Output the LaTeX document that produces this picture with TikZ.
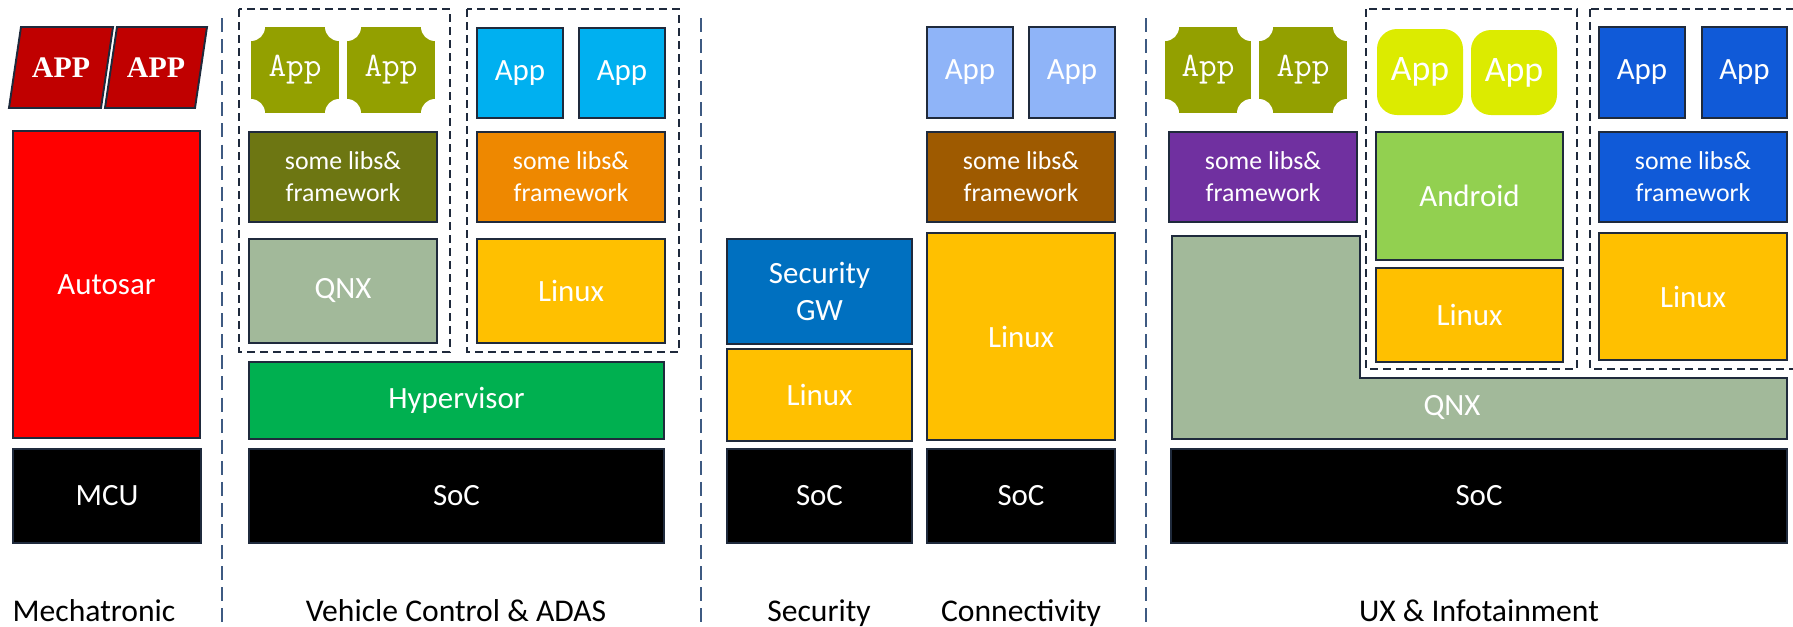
\documentclass[tikz,border=0pt]{standalone}
\usepackage{fontspec}
\setmainfont{Carlito}
\newfontfamily\serifapp{Liberation Serif}

\definecolor{edge}{HTML}{1F2A3C}
\definecolor{divider}{HTML}{3E5A82}
\definecolor{appred}{HTML}{C00000}
\definecolor{autosar}{HTML}{FF0000}
\definecolor{appolive}{HTML}{93A000}
\definecolor{libolive}{HTML}{6D7612}
\definecolor{qnx}{HTML}{A2B99A}
\definecolor{appcyan}{HTML}{00B0F0}
\definecolor{liborange}{HTML}{EE8800}
\definecolor{linux}{HTML}{FFC000}
\definecolor{hyper}{HTML}{00B050}
\definecolor{secgw}{HTML}{0070C0}
\definecolor{appsky}{HTML}{8FB4F8}
\definecolor{libbrown}{HTML}{9E5A00}
\definecolor{libpurple}{HTML}{7030A0}
\definecolor{android}{HTML}{92D050}
\definecolor{applime}{HTML}{DCEB00}
\definecolor{appblue}{HTML}{105AD8}

\tikzset{
  span/.style n args={4}{at={({(#1+#3)/2},{(#2+#4)/2})},
    minimum width={(#3-#1)*0.02cm}, minimum height={(#4-#2)*0.02cm}},
  layer/.style={draw=edge, line width=1.1pt, inner sep=0pt, text=white,
    align=center, font=\fontsize{17.6}{21}\selectfont},
  libs/.style={layer, font=\fontsize{14.7}{18.1}\selectfont},
  group/.style={draw=edge, line width=1.1pt, dash pattern=on 4.6pt off 2.8pt},
  sep/.style={draw=divider, line width=0.9pt, dash pattern=on 8pt off 4pt},
  cutapp/.style={fill=appolive, inner sep=0pt, text=white,
    font=\ttfamily\fontsize{19.5}{23}\selectfont,
    path picture={
      \foreach \c in {north east,north west,south east,south west}
        \fill[white] (path picture bounding box.\c) circle (0.28cm);
    }},
  roundapp/.style={fill=applime, rounded corners=0.4cm, inner sep=0pt,
    text=white, font=\fontsize{20.4}{24}\selectfont},
  redapp/.style={text=white, font=\serifapp\bfseries\fontsize{17}{20}\selectfont},
  caption/.style={anchor=base, font=\fontsize{18}{22}\selectfont},
}

\begin{document}
\begin{tikzpicture}[x=0.02cm,y=-0.02cm]
\clip (0,0) rectangle (1793,626);

% Mechatronic
\draw[layer, fill=appred] (9,108) -- (21,27) -- (113,27) -- (101,108) -- cycle;
\draw[layer, fill=appred] (105,108) -- (117,27) -- (207,27) -- (195,108) -- cycle;
\node[redapp] (mc-app1) at (61,68) {APP};
\node[redapp] (mc-app2) at (156,68) {APP};
\node[layer, fill=autosar, span={13}{131}{200}{438}] (autosar) {Autosar};
\node[layer, fill=black, span={13}{449}{201}{543}] (mcu) {MCU};

% Vehicle Control & ADAS
\draw[group] (239,9) rectangle (450,352);
\draw[group] (467,9) rectangle (679,352);
\node[cutapp, span={251}{27}{339}{113}] (vc-app1) {App};
\node[cutapp, span={347}{27}{435}{113}] (vc-app2) {App};
\node[libs, fill=libolive, span={249}{132}{437}{222}] (vc-libs1) {some libs\&\\framework};
\node[layer, fill=qnx, span={249}{239}{437}{343}] (vc-qnx) {QNX};
\node[layer, fill=appcyan, span={477}{28}{563}{118}] (vc-app3) {App};
\node[layer, fill=appcyan, span={579}{28}{665}{118}] (vc-app4) {App};
\node[libs, fill=liborange, span={477}{132}{665}{222}] (vc-libs2) {some libs\&\\framework};
\node[layer, fill=linux, span={477}{239}{665}{343}] (vc-linux) {Linux};
\node[layer, fill=hyper, span={249}{362}{664}{439}] (hyper) {Hypervisor};
\node[layer, fill=black, span={249}{449}{664}{543}] (vc-soc) {SoC};

% Security
\node[layer, fill=secgw, span={727}{239}{912}{344}] (gw) {Security\\GW};
\node[layer, fill=linux, span={727}{349}{912}{441}] (sec-linux) {Linux};
\node[layer, fill=black, span={727}{449}{912}{543}] (sec-soc) {SoC};

% Connectivity
\node[layer, fill=appsky, span={927}{27}{1013}{118}] (co-app1) {App};
\node[layer, fill=appsky, span={1029}{27}{1115}{118}] (co-app2) {App};
\node[libs, fill=libbrown, span={927}{132}{1115}{222}] (co-libs) {some libs\&\\framework};
\node[layer, fill=linux, span={927}{233}{1115}{440}] (co-linux) {Linux};
\node[layer, fill=black, span={927}{449}{1115}{543}] (co-soc) {SoC};

% UX & Infotainment
\draw[layer, fill=qnx] (1172,236) -- (1360,236) -- (1360,378) -- (1787,378)
  -- (1787,439) -- (1172,439) -- cycle;
\node[text=white, font=\fontsize{17.6}{21}\selectfont] (ux-qnx) at (1452,408) {QNX};
\draw[group] (1366,9) rectangle (1577,369);
\draw[group] (1590,9) rectangle (1800,369);
\node[cutapp, span={1165}{27}{1251}{113}] (ux-app1) {App};
\node[cutapp, span={1259}{27}{1347}{113}] (ux-app2) {App};
\node[libs, fill=libpurple, span={1169}{132}{1357}{222}] (ux-libs1) {some libs\&\\framework};
\node[roundapp, span={1377}{29}{1463}{115}] (ux-app3) {App};
\node[roundapp, span={1471}{30}{1557}{115}] (ux-app4) {App};
\node[layer, fill=android, span={1376}{132}{1563}{260}] (android) {Android};
\node[layer, fill=linux, span={1376}{268}{1563}{362}] (ux-linux1) {Linux};
\node[layer, fill=appblue, span={1599}{27}{1685}{118}] (ux-app5) {App};
\node[layer, fill=appblue, span={1702}{27}{1787}{118}] (ux-app6) {App};
\node[libs, fill=appblue, span={1599}{132}{1787}{222}] (ux-libs2) {some libs\&\\framework};
\node[layer, fill=linux, span={1599}{233}{1787}{360}] (ux-linux2) {Linux};
\node[layer, fill=black, span={1171}{449}{1787}{543}] (ux-soc) {SoC};

% domain separators
\draw[sep] (222,18) -- (222,626);
\draw[sep] (701,18) -- (701,626);
\draw[sep] (1146,18) -- (1146,626);

% domain names
\node[caption] (cap-mech) at (94,621) {Mechatronic};
\node[caption] (cap-vc) at (456,621) {Vehicle Control \& ADAS};
\node[caption] (cap-sec) at (819,621) {Security};
\node[caption] (cap-con) at (1021,621) {Connectivity};
\node[caption] (cap-ux) at (1479,621) {UX \& Infotainment};

\end{tikzpicture}
\end{document}
